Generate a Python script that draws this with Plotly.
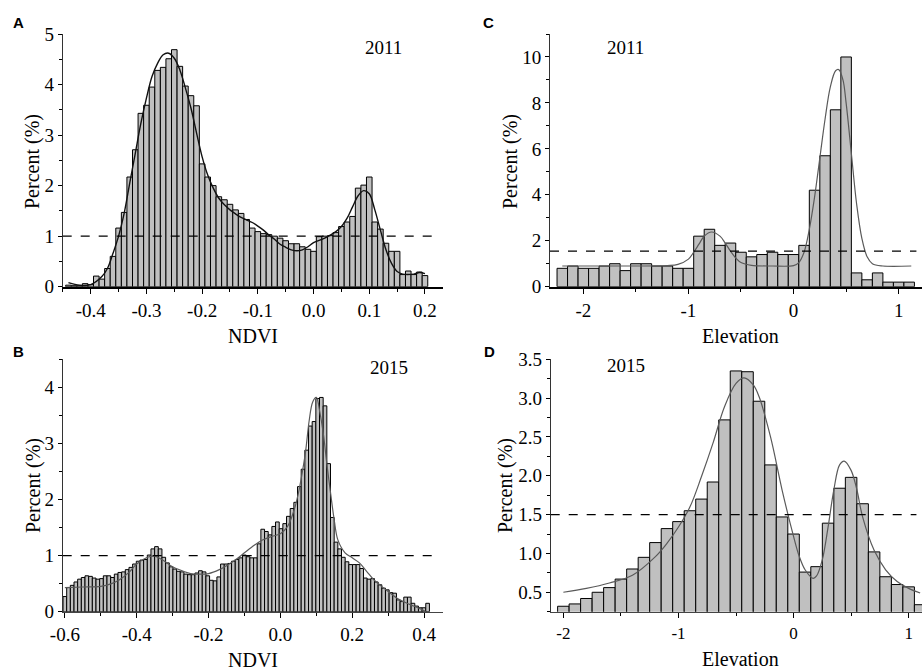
import numpy as np
import plotly.graph_objects as go

W, H = 922, 670

# ---------------- Panel A : NDVI 2011 ----------------
a_bin_start = -0.44
a_bin_width = 0.01
a_pct = [0.03, 0.02, 0.02, 0.06, 0.04, 0.21, 0.15, 0.36, 0.60, 1.16,
         1.47, 2.17, 2.71, 3.43, 3.59, 3.95, 4.28, 4.34, 4.51, 4.69,
         4.36, 3.97, 3.78, 3.58, 2.43, 2.17, 2.00, 1.78, 1.72, 1.63,
         1.52, 1.45, 1.33, 1.16, 1.09, 1.05, 1.03, 1.00, 0.96, 0.91,
         0.85, 0.85, 0.79, 0.74, 0.70, 0.99, 1.00, 1.01, 1.07, 1.19,
         1.28, 1.39, 1.95, 2.01, 2.17, 1.28, 1.14, 0.86, 0.70, 0.70,
         0.24, 0.31, 0.24, 0.29, 0.22]
a_curve_x = [-0.44, -0.42, -0.40, -0.38, -0.37, -0.36, -0.35, -0.34, -0.33, -0.32,
             -0.31, -0.30, -0.29, -0.28, -0.27, -0.26, -0.25, -0.24, -0.23, -0.22,
             -0.21, -0.20, -0.19, -0.18, -0.17, -0.16, -0.15, -0.14, -0.13, -0.12,
             -0.11, -0.10, -0.09, -0.08, -0.07, -0.06, -0.05, -0.04, -0.03, -0.02,
             -0.01, 0.00, 0.02, 0.04, 0.05, 0.06, 0.07, 0.08, 0.09, 0.10,
             0.11, 0.12, 0.13, 0.14, 0.15, 0.16, 0.18, 0.19, 0.20]
a_curve_y = [0.08, 0.03, 0.04, 0.20, 0.36, 0.66, 1.00, 1.45, 2.05, 2.64,
             3.23, 3.73, 4.16, 4.42, 4.59, 4.62, 4.52, 4.29, 3.93, 3.53,
             3.04, 2.57, 2.21, 1.95, 1.75, 1.62, 1.52, 1.44, 1.37, 1.32,
             1.27, 1.20, 1.12, 1.02, 0.94, 0.84, 0.78, 0.73, 0.71, 0.73,
             0.79, 0.87, 0.96, 1.09, 1.19, 1.35, 1.58, 1.80, 1.90, 1.84,
             1.52, 1.12, 0.73, 0.46, 0.30, 0.25, 0.25, 0.28, 0.26]
a_ref = 1.0

# ---------------- Panel B : NDVI 2015 ----------------
b_bin_start = -0.60
b_bin_width = 0.0102
b_pct = [0.27, 0.43, 0.47, 0.53, 0.58, 0.61, 0.64, 0.63, 0.60, 0.58,
         0.59, 0.64, 0.64, 0.61, 0.67, 0.70, 0.71, 0.75, 0.79, 0.85,
         0.90, 0.92, 0.93, 1.01, 1.12, 1.16, 1.12, 0.97, 0.87, 0.80,
         0.76, 0.72, 0.71, 0.67, 0.66, 0.66, 0.69, 0.73, 0.71, 0.64,
         0.56, 0.55, 0.62, 0.85, 0.85, 0.86, 0.90, 0.93, 0.96, 1.01,
         0.98, 0.96, 0.96, 1.21, 1.47, 1.43, 1.37, 1.52, 1.60, 1.48,
         1.57, 1.70, 1.84, 1.95, 2.23, 2.54, 2.88, 3.31, 3.39, 3.80,
         3.82, 3.67, 2.64, 1.68, 1.24, 1.12, 0.97, 0.89, 0.84, 0.84,
         0.84, 0.77, 0.60, 0.58, 0.59, 0.53, 0.48, 0.42, 0.39, 0.34,
         0.33, 0.21, 0.18, 0.26, 0.26, 0.15, 0.10, 0.07, 0.07, 0.15]
b_curve_x = [-0.60, -0.55, -0.50, -0.47, -0.45, -0.42, -0.40, -0.37, -0.35, -0.33,
             -0.30, -0.27, -0.25, -0.22, -0.20, -0.17, -0.15, -0.12, -0.10, -0.08,
             -0.05, -0.02, 0.00, 0.02, 0.04, 0.05, 0.06, 0.07, 0.08, 0.09,
             0.10, 0.11, 0.12, 0.13, 0.14, 0.15, 0.16, 0.18, 0.20, 0.22,
             0.24, 0.26, 0.28, 0.30, 0.33, 0.36, 0.39, 0.405]
b_curve_y = [0.43, 0.44, 0.45, 0.50, 0.56, 0.71, 0.85, 0.97, 0.99, 0.93,
             0.80, 0.72, 0.68, 0.67, 0.68, 0.75, 0.82, 0.95, 1.05, 1.15,
             1.28, 1.35, 1.39, 1.52, 1.85, 2.11, 2.45, 2.85, 3.40, 3.74,
             3.82, 3.55, 3.15, 2.60, 2.10, 1.63, 1.28, 1.05, 0.96, 0.87,
             0.72, 0.57, 0.46, 0.36, 0.22, 0.13, 0.05, 0.0]
b_ref = 1.0

# ---------------- Panel C : Elevation 2011 ----------------
c_bin_start = -2.2
c_bin_width = 0.1
c_pct = [0.8, 0.9, 0.8, 0.8, 0.9, 1.0, 0.7, 1.0, 1.0, 0.9,
         0.9, 0.8, 0.8, 2.2, 2.5, 1.8, 1.9, 1.5, 1.3, 1.4,
         1.5, 1.4, 1.4, 1.8, 4.2, 5.7, 7.7, 10.0, 0.6, 0.3,
         0.6, 0.2, 0.2, 0.2]
c_curve_x = [-2.2, -1.5, -1.2, -1.1, -1.0, -0.95, -0.9, -0.85, -0.78, -0.7,
             -0.65, -0.6, -0.55, -0.5, -0.4, -0.2, 0.0, 0.05, 0.1, 0.15,
             0.2, 0.25, 0.3, 0.35, 0.4, 0.43, 0.47, 0.5, 0.55, 0.6,
             0.65, 0.7, 0.75, 0.85, 1.12]
c_curve_y = [0.9, 0.9, 0.92, 0.97, 1.2, 1.5, 1.85, 2.2, 2.38, 2.2,
             1.9, 1.55, 1.25, 1.05, 0.93, 0.9, 0.92, 1.05, 1.5, 2.5,
             3.9, 5.6, 7.3, 8.7, 9.4, 9.45, 9.0, 8.0, 5.8, 3.6,
             2.1, 1.3, 1.0, 0.9, 0.9]
c_ref = 1.55

# ---------------- Panel D : Elevation 2015 ----------------
d_bin_start = -2.0
d_bin_width = 0.1
d_pct = [0.32, 0.35, 0.42, 0.50, 0.56, 0.67, 0.80, 0.95, 1.14, 1.32,
         1.41, 1.55, 1.70, 1.92, 2.72, 3.35, 3.34, 2.96, 2.14, 1.47,
         1.25, 0.76, 0.83, 1.39, 1.84, 1.98, 1.64, 1.02, 0.70, 0.60,
         0.57, 0.34]
d_curve_x = [-2.0, -1.8, -1.6, -1.4, -1.2, -1.1, -1.0, -0.9, -0.8, -0.7,
             -0.6, -0.5, -0.43, -0.35, -0.3, -0.2, -0.1, 0.0, 0.05, 0.1,
             0.17, 0.2, 0.25, 0.3, 0.35, 0.4, 0.44, 0.5, 0.55, 0.6,
             0.7, 0.8, 0.9, 1.0, 1.1]
d_curve_y = [0.50, 0.55, 0.62, 0.72, 0.96, 1.13, 1.34, 1.60, 1.99, 2.42,
             2.89, 3.19, 3.26, 3.17, 3.02, 2.50, 1.82, 1.22, 0.96, 0.79,
             0.68, 0.71, 0.92, 1.34, 1.82, 2.14, 2.19, 2.07, 1.82, 1.47,
             1.04, 0.79, 0.64, 0.55, 0.49]
d_ref = 1.5

# tick labels
a_xticks = [-0.4, -0.3, -0.2, -0.1, 0.0, 0.1, 0.2]
a_xlabels = ["-0.4", "-0.3", "-0.2", "-0.1", "0.0", "0.1", "0.2"]
a_yticks = [0, 1, 2, 3, 4, 5]
a_ylabels = ["0", "1", "2", "3", "4", "5"]
b_xticks = [-0.6, -0.4, -0.2, 0.0, 0.2, 0.4]
b_xlabels = ["-0.6", "-0.4", "-0.2", "0.0", "0.2", "0.4"]
b_yticks = [0, 1, 2, 3, 4]
b_ylabels = ["0", "1", "2", "3", "4"]
c_xticks = [-2, -1, 0, 1]
c_xlabels = ["-2", "-1", "0", "1"]
c_yticks = [0, 2, 4, 6, 8, 10]
c_ylabels = ["0", "2", "4", "6", "8", "10"]
d_xticks = [-2, -1, 0, 1]
d_xlabels = ["-2", "-1", "0", "1"]
d_yticks = [0.5, 1.0, 1.5, 2.0, 2.5, 3.0, 3.5]
d_ylabels = ["0.5", "1.0", "1.5", "2.0", "2.5", "3.0", "3.5"]

SERIF = "Liberation Serif"
BAR_FILL = "#c0c0c0"

fig = go.Figure()

panels = [
    ("x", "y", a_bin_start, a_bin_width, a_pct, a_curve_x, a_curve_y, "#111111", 1.4),
    ("x2", "y2", b_bin_start, b_bin_width, b_pct, b_curve_x, b_curve_y, "#5a5a5a", 1.2),
    ("x3", "y3", c_bin_start, c_bin_width, c_pct, c_curve_x, c_curve_y, "#5a5a5a", 1.2),
    ("x4", "y4", d_bin_start, d_bin_width, d_pct, d_curve_x, d_curve_y, "#5a5a5a", 1.2),
]
for xa, ya, start, width, pct, cx, cy, ccol, cw in panels:
    centers = start + width * np.arange(len(pct))
    fig.add_trace(go.Bar(x=centers, y=pct, width=width, xaxis=xa, yaxis=ya,
                         marker=dict(color=BAR_FILL, line=dict(color="black", width=1)),
                         hoverinfo="skip"))
    fig.add_trace(go.Scatter(x=cx, y=cy, mode="lines", xaxis=xa, yaxis=ya,
                             line=dict(color=ccol, width=cw, shape="spline", smoothing=1.0),
                             hoverinfo="skip"))


def dx(l, r):
    return [l / W, min(r / W, 1.0)]


def dy(top, bottom):
    return [1 - bottom / H, 1 - top / H]


def xaxis_cfg(domain, rng, tv, tt, minor_dtick, anchor, lw, lcol, fsize=19):
    return dict(domain=domain, range=rng, anchor=anchor, showgrid=False, zeroline=False,
                showline=True, linecolor=lcol, linewidth=lw, ticks="outside", ticklen=5,
                tickwidth=1, tickcolor="black", tickvals=tv, ticktext=tt, automargin=False,
                tickfont=dict(family=SERIF, size=fsize, color="black"),
                minor=dict(ticks="outside", ticklen=3, tickwidth=1, tickcolor="black",
                           dtick=minor_dtick, tick0=0, showgrid=False))


def yaxis_cfg(domain, rng, tv, tt, minor_dtick, anchor, fsize=19):
    return dict(domain=domain, range=rng, anchor=anchor, showgrid=False, zeroline=False,
                showline=True, linecolor="#333333", linewidth=1, ticks="outside", ticklen=4,
                tickwidth=1, tickcolor="black", tickvals=tv, ticktext=tt, automargin=False,
                tickfont=dict(family=SERIF, size=fsize, color="black"),
                minor=dict(ticks="outside", ticklen=3, tickwidth=1, tickcolor="black",
                           dtick=minor_dtick, tick0=0, showgrid=False))


left_x = dx(62.7, 443.3)
top_y = dy(34, 286.7)
bot_y = dy(359.3, 611.7)

fig.update_layout(
    width=W, height=H, autosize=False,
    margin=dict(l=0, r=0, t=0, b=0, pad=0, autoexpand=False),
    paper_bgcolor="white", plot_bgcolor="white", showlegend=False,
    bargap=0,
    xaxis=xaxis_cfg(left_x, [-0.4503, 0.2329], a_xticks, a_xlabels, 0.05, "y", 2, "black"),
    yaxis=yaxis_cfg(top_y, [0, 5], a_yticks, a_ylabels, 0.5, "x"),
    xaxis2=xaxis_cfg(left_x, [-0.606, 0.4535], b_xticks, b_xlabels, 0.1, "y2", 1.5, "#444444"),
    yaxis2=yaxis_cfg(bot_y, [0, 4.5], b_yticks, b_ylabels, 0.5, "x2"),
    xaxis3=xaxis_cfg(dx(550, 922), [-2.317, 1.222], c_xticks, c_xlabels, 0.5, "y3", 2, "black"),
    yaxis3=yaxis_cfg(top_y, [0, 11], c_yticks, c_ylabels, 1, "x3"),
    xaxis4=xaxis_cfg(dx(550.7, 922), [-2.11, 1.116], d_xticks, d_xlabels, 0.5, "y4", 1.5, "#444444", 17),
    yaxis4=yaxis_cfg(bot_y, [0.25, 3.5], d_yticks, d_ylabels, 0.25, "x4"),
)

# dashed reference lines
for xa, ya, ref in [("x", "y", a_ref), ("x2", "y2", b_ref), ("x3", "y3", c_ref), ("x4", "y4", d_ref)]:
    fig.add_shape(type="line", xref=f"{xa} domain", yref=ya, x0=0, x1=0.985, y0=ref, y1=ref,
                  line=dict(color="black", width=1.2, dash="dash"))

ann = []


def add_text(text, x_px, y_px, size=18, family=SERIF, bold=False, angle=0):
    ann.append(dict(text=f"<b>{text}</b>" if bold else text, x=x_px / W, y=1 - y_px / H,
                    xref="paper", yref="paper", showarrow=False, xanchor="center",
                    yanchor="middle", textangle=angle,
                    font=dict(family=family, size=size, color="black")))


add_text("A", 18, 23, 15, "Liberation Sans", True)
add_text("B", 18, 351, 15, "Liberation Sans", True)
add_text("C", 488, 23, 15, "Liberation Sans", True)
add_text("D", 489, 351, 15, "Liberation Sans", True)
add_text("2011", 383, 48, 19)
add_text("2015", 389, 367, 19)
add_text("2011", 625, 47, 19)
add_text("2015", 626, 365, 19)
add_text("Percent (%)", 33, 162, 20, angle=-90)
add_text("Percent (%)", 33, 486, 20, angle=-90)
add_text("Percent (%)", 511, 162, 20, angle=-90)
add_text("Percent (%)", 505, 486, 20, angle=-90)
add_text("NDVI", 253, 336, 20)
add_text("NDVI", 253, 660, 20)
add_text("Elevation", 740, 336, 20)
add_text("Elevation", 740, 659, 20)
fig.update_layout(annotations=ann)

fig.write_html("out.html",
               config={"displayModeBar": False, "staticPlot": True},
               post_script="document.body.style.margin='0px';document.body.style.overflow='hidden';")
